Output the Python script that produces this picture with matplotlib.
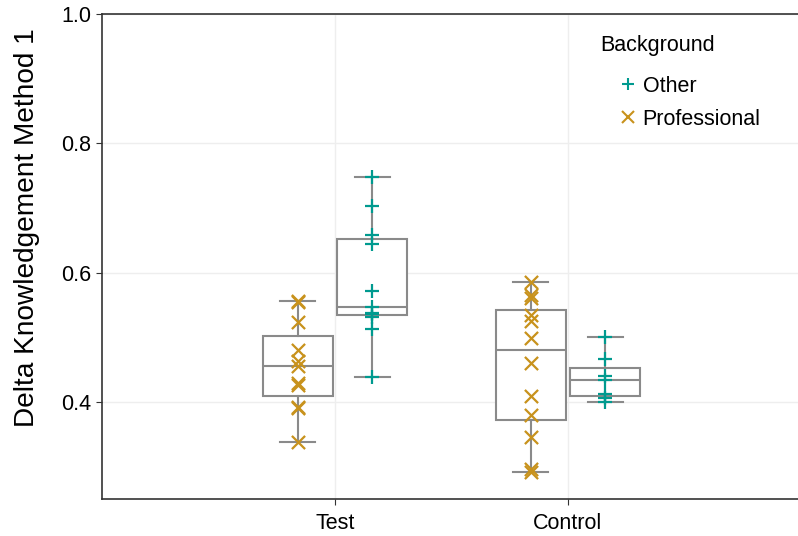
import numpy as np
import matplotlib
matplotlib.use("Agg")
import matplotlib.pyplot as plt
from matplotlib.lines import Line2D

plt.rcParams['font.family'] = ['Liberation Sans', 'DejaVu Sans']

#----------------------------------------------------
groups = ["Test", "Control"]
backgrounds = ["Other", "Professional"]

test_prof = [0.338, 0.390, 0.393, 0.427, 0.430, 0.456, 0.464, 0.481, 0.523, 0.555, 0.556]
test_other = [0.438, 0.513, 0.532, 0.536, 0.538, 0.547, 0.571, 0.645, 0.658, 0.703, 0.748]
ctrl_prof = [0.292, 0.296, 0.346, 0.380, 0.409, 0.461, 0.499, 0.525, 0.535, 0.561, 0.566, 0.585]
ctrl_other = [0.400, 0.406, 0.413, 0.434, 0.440, 0.466, 0.500]

data = {("Test", "Professional"): test_prof,
        ("Test", "Other"): test_other,
        ("Control", "Professional"): ctrl_prof,
        ("Control", "Other"): ctrl_other}

col = {"Other": "#009a8f", "Professional": "#c8921c"}
mark = {"Other": "+", "Professional": "x"}
offset = {"Professional": -0.16, "Other": 0.16}
fs = 15.5

fig = plt.figure(figsize=(7.98, 5.36), dpi=100)
ax = fig.add_axes([102/798, 37/536, 699/798, 485/536])

gray = "#8a8a8a"
for i, g in enumerate(groups):
  for b in ["Professional", "Other"]:
    vals = data[(g, b)]
    pos = i + 1 + offset[b]
    ax.boxplot([vals], positions=[pos], widths=0.30, patch_artist=True,
               showfliers=False, manage_ticks=False,
               boxprops=dict(facecolor="white", edgecolor=gray, linewidth=1.5),
               medianprops=dict(color=gray, linewidth=1.5),
               whiskerprops=dict(color=gray, linewidth=1.5),
               capprops=dict(color=gray, linewidth=1.5),
               capwidths=0.15, zorder=2)
    ax.scatter(np.full(len(vals), pos), vals, marker=mark[b], color=col[b],
               s=90 if b == "Professional" else 100, linewidths=1.6, zorder=3)

ax.set_xlim(0, 3)
ax.set_ylim(0.25, 1.0)
ax.set_xticks([1, 2])
ax.set_xticklabels(groups)
ax.set_yticks([0.4, 0.6, 0.8, 1.0])
ax.set_yticklabels(["0.4", "0.6", "0.8", "1.0"])
ax.set_ylabel("Delta Knowledgement Method 1", fontsize=20.2)
ax.yaxis.set_label_coords(-0.088, 0.56)
ax.grid(True, color="#eeeeee", linewidth=1.0, zorder=0)
ax.set_axisbelow(True)
ax.tick_params(labelsize=fs, colors="#333333", length=4, labelcolor="black")
ax.tick_params(axis="x", pad=6)
for s in ["left", "bottom", "top"]:
  ax.spines[s].set_color("#333333")
  ax.spines[s].set_linewidth(1.2)
ax.spines["right"].set_visible(False)

# legend: title as its own text, entries below
fig.text(600/798, 1 - 46/536, "Background", fontsize=fs, va="center", ha="left")
handles = [Line2D([], [], linestyle="none", marker=mark[b], color=col[b],
                  markersize=9, markeredgewidth=1.5) for b in backgrounds]
leg = ax.legend(handles, backgrounds, loc="upper left",
                bbox_to_anchor=(606/798, 1 - 76/536), bbox_transform=fig.transFigure,
                frameon=False, fontsize=fs,
                handlelength=2.0, handletextpad=-0.3, labelspacing=0.55,
                borderpad=0.0, borderaxespad=0.0)

plt.savefig("out.png", dpi=100)
plt.close()
